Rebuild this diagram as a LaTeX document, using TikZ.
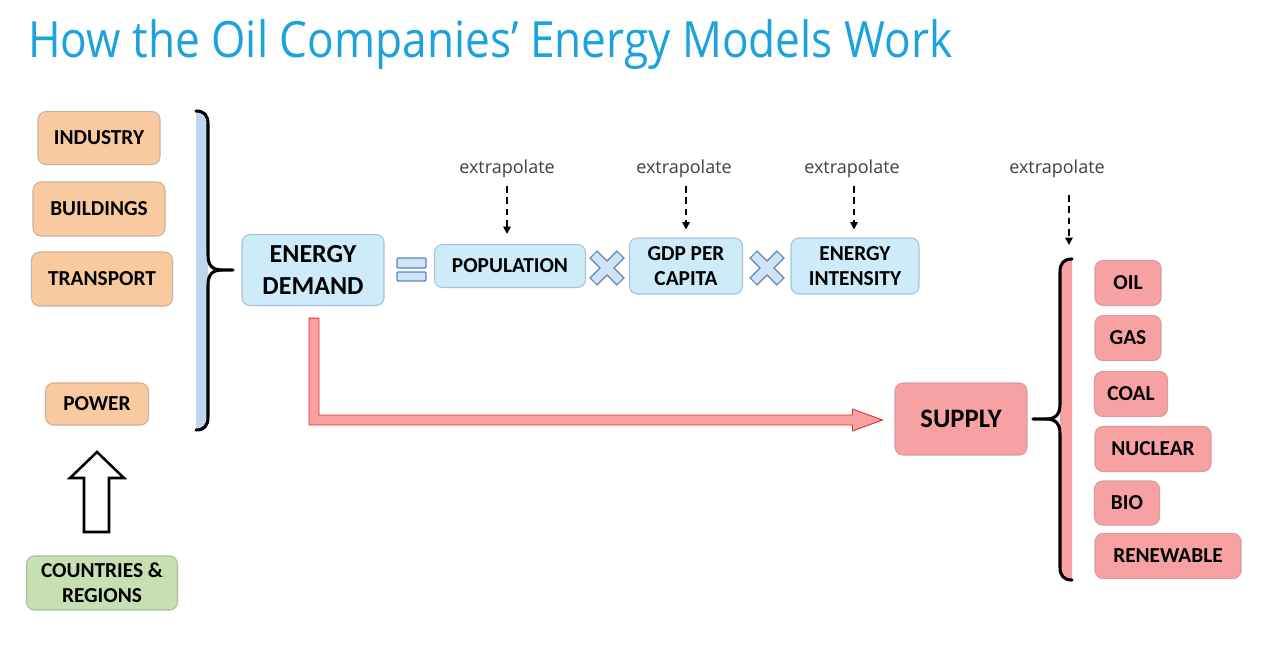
\documentclass[tikz,border=0pt]{standalone}
\usepackage{fontspec}
\setmainfont{Carlito}
\newfontfamily\titlefont{Open Sans}
\newfontfamily\labfont{Open Sans}
\usetikzlibrary{calc,arrows.meta}
\definecolor{titleblue}{HTML}{1CA2DC}
\definecolor{orfill}{HTML}{F9C9A0}
\definecolor{ordraw}{HTML}{C9B29C}
\definecolor{blfill}{HTML}{CDEBF9}
\definecolor{bldraw}{HTML}{A6C3D6}
\definecolor{pkfill}{HTML}{F7A1A3}
\definecolor{pkdraw}{HTML}{D79C9C}
\definecolor{grfill}{HTML}{C6E0B4}
\definecolor{grdraw}{HTML}{A8BF98}
\definecolor{bracefill}{HTML}{BDD7EE}
\definecolor{symfill}{HTML}{CFE5F6}
\definecolor{symdraw}{HTML}{5B86B8}
\definecolor{redfill}{HTML}{F9A0A0}
\definecolor{reddraw}{HTML}{E03434}
\definecolor{labgray}{HTML}{404040}
\tikzset{
  boxbase/.style={rounded corners=6pt, line width=0.8pt, inner sep=0pt, align=center,
    font=\fontsize{16}{19}\selectfont\bfseries, text=black},
  sz/.style 2 args={minimum width=#1*0.75pt, minimum height=#2*0.75pt},
  orbox/.style={boxbase, fill=orfill, draw=ordraw},
  blbox/.style={boxbase, fill=blfill, draw=bldraw},
  pkbox/.style={boxbase, fill=pkfill, draw=pkdraw},
  grbox/.style={boxbase, fill=grfill, draw=grdraw},
  extlab/.style={font=\labfont\fontsize{13.5}{15}\selectfont, text=labgray, inner sep=1pt},
  extarrow/.style={line width=1.3pt, dash pattern=on 5pt off 3.5pt, -{Triangle[length=5.5pt,width=5.5pt]}},
  bracestroke/.style={line width=2.3pt, line cap=round},
  symb/.style={fill=symfill, draw=symdraw, line width=0.9pt},
}
\begin{document}
\begin{tikzpicture}[x=0.75pt,y=-0.75pt]
\useasboundingbox (0,0) rectangle (1270,654);

% title
\node[anchor=base west, inner sep=0pt, text=titleblue] (title) at (28,57)
  {\resizebox{693pt}{\height}{\titlefont\fontsize{37.5}{40}\selectfont How the Oil Companies’ Energy Models Work}};

% left sector boxes
\node[orbox, sz={122}{53}] (ind) at (99,138) {INDUSTRY};
\node[orbox, sz={132}{54}] (bld) at (99,209) {BUILDINGS};
\node[orbox, sz={141}{54}] (trn) at (102,279) {TRANSPORT};
\node[orbox, sz={103}{42}] (pow) at (97,404) {POWER};
\node[grbox, sz={151}{54}] (ctr) at (102,583) {COUNTRIES \&\\REGIONS};

% hollow up arrow
\draw[line width=1.9pt, fill=white, line join=miter]
  (84,532) -- (109,532) -- (109,478) -- (124,478) -- (97,452) -- (70,478) -- (84,478) -- cycle;

% left brace
\fill[bracefill] (196,111) .. controls (204,111) and (208,115) .. (208,124) -- (208,417)
  .. controls (208,426) and (204,430) .. (196,430) -- cycle;
\draw[bracestroke] (196,111) .. controls (204,111) and (208,115) .. (208,124) -- (208,255)
  .. controls (208,265) and (212,270) .. (222,270) -- (233,270);
\draw[bracestroke] (222,270) .. controls (212,270) and (208,275) .. (208,285) -- (208,417)
  .. controls (208,426) and (204,430) .. (196,430);

% energy demand equation
\node[blbox, sz={142}{71}, font=\fontsize{19.5}{23.5}\selectfont\bfseries] (dem) at (313,270) {ENERGY\\DEMAND};
\draw[symb, rounded corners=0.8pt] (397,258) rectangle (426,268);
\draw[symb, rounded corners=0.8pt] (397,272) rectangle (426,281);
\node[blbox, sz={151}{43}] (pop) at (510,266) {POPULATION};
\node[blbox, sz={113}{56}] (gdp) at (686,266) {GDP PER\\CAPITA};
\node[blbox, sz={128}{56}] (int) at (855,266) {ENERGY\\INTENSITY};
\foreach \cx in {607,767}{
  \draw[symb, line join=miter, shift={(\cx,268)}, rotate=45]
    (-5,-19) -- (5,-19) -- (5,-5) -- (19,-5) -- (19,5) -- (5,5) -- (5,19)
    -- (-5,19) -- (-5,5) -- (-19,5) -- (-19,-5) -- (-5,-5) -- cycle;
}

% extrapolate labels and arrows
\node[extlab] (e1) at (507,169) {extrapolate};
\node[extlab] (e2) at (684,169) {extrapolate};
\node[extlab] (e3) at (852,169) {extrapolate};
\node[extlab] (e4) at (1057,169) {extrapolate};
\coordinate (e1s) at (507,186);
\coordinate (e2s) at (686,186);
\coordinate (e3s) at (854,186);
\coordinate (e4s) at (1069,195);
\coordinate (e4e) at (1069,245);
\draw[extarrow] (e1s) -- ($(e1s |- pop.north)+(0,-10)$);
\draw[extarrow] (e2s) -- ($(e2s |- gdp.north)+(0,-8)$);
\draw[extarrow] (e3s) -- ($(e3s |- int.north)+(0,-8)$);
\draw[extarrow] (e4s) -- (e4e);

% supply
\node[pkbox, sz={132}{72}, font=\fontsize{20}{24}\selectfont\bfseries] (sup) at (961,419) {SUPPLY};

% red L arrow from demand to supply
\coordinate (rs) at ($(dem.south)+(1,12)$);
\coordinate (rt) at ($(sup.west)+(-12,1)$);
\draw[fill=redfill, draw=reddraw, line width=0.7pt, line join=miter]
  ($(rs)+(-5,0)$) -- ($(rs)+(5,0)$) -- ($(rs |- rt)+(5,-5)$) -- ($(rt)+(-30,-5)$)
  -- ($(rt)+(-30,-11)$) -- (rt) -- ($(rt)+(-30,11)$) -- ($(rt)+(-30,5)$)
  -- ($(rs |- rt)+(-5,5)$) -- cycle;

% right brace
\fill[pkfill] (1072,259) .. controls (1064,259) and (1060,263) .. (1060,272) -- (1060,567)
  .. controls (1060,576) and (1064,580) .. (1072,580) -- cycle;
\draw[bracestroke] (1072,259) .. controls (1064,259) and (1060,263) .. (1060,272) -- (1060,404)
  .. controls (1060,414) and (1056,419) .. (1046,419) -- (1033,419);
\draw[bracestroke] (1046,419) .. controls (1056,419) and (1060,424) .. (1060,434) -- (1060,567)
  .. controls (1060,576) and (1064,580) .. (1072,580);

% supply sources
\node[pkbox, sz={66}{45}] (oil) at (1128,283) {OIL};
\node[pkbox, sz={66}{45}] (gas) at (1128,338) {GAS};
\node[pkbox, sz={73}{45}] (coal) at (1131,394) {COAL};
\node[pkbox, sz={116}{45}] (nuc) at (1153,449) {NUCLEAR};
\node[pkbox, sz={65}{44}] (bio) at (1127,503) {BIO};
\node[pkbox, sz={146}{45}] (ren) at (1168,556) {RENEWABLE};
\end{tikzpicture}
\end{document}
